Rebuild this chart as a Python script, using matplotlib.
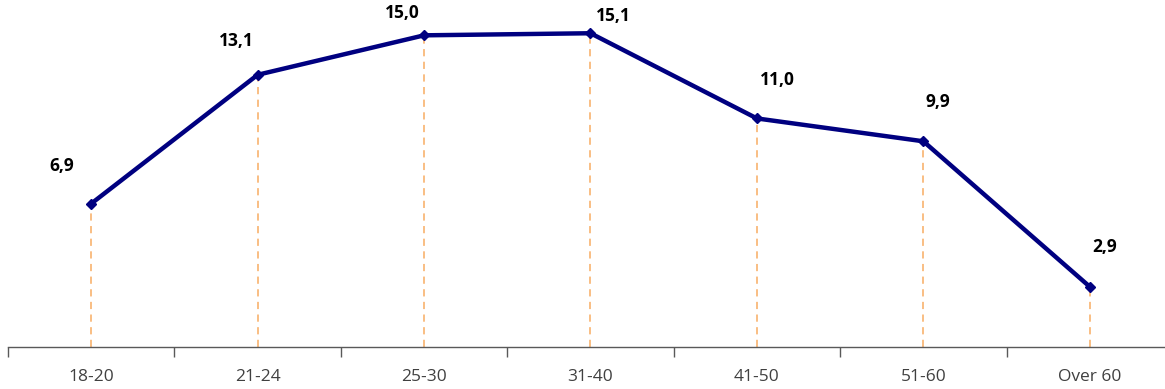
import matplotlib
matplotlib.use('agg')
import matplotlib.pyplot as plt

categories = ['18-20', '21-24', '25-30', '31-40', '41-50', '51-60', 'Over 60']
values = [6.9, 13.1, 15.0, 15.1, 11.0, 9.9, 2.9]
labels = ['6,9', '13,1', '15,0', '15,1', '11,0', '9,9', '2,9']
# label offsets in pixels (dx, dy)
offsets = [(-29, 38), (-21, 34), (-22, 22), (23, 17), (20, 38), (15, 39), (15, 40)]

plt.rcParams['font.family'] = ['Open Sans', 'DejaVu Sans']

fig = plt.figure(figsize=(11.65, 3.89), dpi=100)
ax = fig.add_axes([8 / 1165, 42 / 389, 1165 / 1165, 347 / 389])
x = list(range(len(categories)))

for xi, v in zip(x, values):
    ax.plot([xi, xi], [0, v], color='#F9B97A', lw=1.3, ls=(0, (4, 3)), zorder=1)

ax.plot(x, values, color='#000080', lw=3.2, marker='D', markersize=5.5, zorder=3)

for xi, v, lab, (dx, dy) in zip(x, values, labels, offsets):
    ax.annotate(lab, (xi, v), xytext=(dx, dy), textcoords='offset pixels',
                ha='center', va='center', fontsize=12.5, fontweight='bold', color='black')

ax.set_xlim(-0.5, 6.5)
ax.set_ylim(0, 16.7)
ax.set_yticks([])
for s in ['top', 'right', 'left']:
    ax.spines[s].set_visible(False)
ax.spines['bottom'].set_color('#595959')
ax.spines['bottom'].set_linewidth(1)

ax.set_xticks([i - 0.5 for i in range(len(categories) + 1)])
ax.set_xticklabels([])
ax.set_xticks(x, minor=True)
ax.set_xticklabels(categories, minor=True, fontsize=12.5, color='#404040')
ax.tick_params(axis='x', which='major', direction='out', length=7, color='#595959', width=1)
ax.tick_params(axis='x', which='minor', length=0, pad=16)

fig.savefig('out.png', dpi=100)
